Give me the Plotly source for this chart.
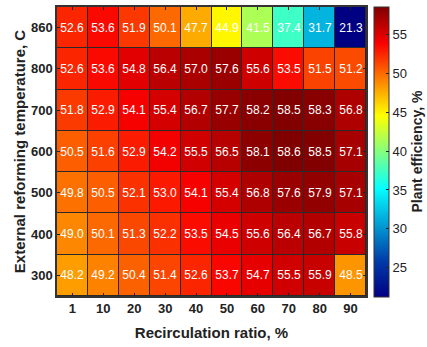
import plotly.graph_objects as go

# Recirculation ratio (%) and external reforming temperature (C)
recirc = ["1", "10", "20", "30", "40", "50", "60", "70", "80", "90"]
temps = ["300", "400", "500", "600", "700", "800", "860"]

# Plant efficiency (%) per temperature row, bottom (300 C) to top (860 C)
eff_300 = [48.2, 49.2, 50.4, 51.4, 52.6, 53.7, 54.7, 55.5, 55.9, 48.5]
eff_400 = [49.0, 50.1, 51.3, 52.2, 53.5, 54.5, 55.6, 56.4, 56.7, 55.8]
eff_500 = [49.8, 50.5, 52.1, 53.0, 54.1, 55.4, 56.8, 57.6, 57.9, 57.1]
eff_600 = [50.5, 51.6, 52.9, 54.2, 55.5, 56.5, 58.1, 58.6, 58.5, 57.1]
eff_700 = [51.8, 52.9, 54.1, 55.4, 56.7, 57.7, 58.2, 58.5, 58.3, 56.8]
eff_800 = [52.6, 53.6, 54.8, 56.4, 57.0, 57.6, 55.6, 53.5, 51.5, 51.2]
eff_860 = [52.6, 53.6, 51.9, 50.1, 47.7, 44.9, 41.5, 37.4, 31.7, 21.3]

z = [eff_300, eff_400, eff_500, eff_600, eff_700, eff_800, eff_860]
labels = [[f"{v:.1f}" for v in row] for row in z]

xi = list(range(len(recirc)))
yi = list(range(len(temps)))

jet = [
    [0.0, "rgb(0,0,131)"],
    [0.125, "rgb(0,60,170)"],
    [0.375, "rgb(5,255,255)"],
    [0.625, "rgb(255,255,0)"],
    [0.875, "rgb(250,0,0)"],
    [1.0, "rgb(128,0,0)"],
]

label_font = "Liberation Sans Narrow, Arial Narrow, Liberation Sans, Arial, sans-serif"
title_font = dict(family="Liberation Sans, Arial, sans-serif", size=15, color="#222")

fig = go.Figure(
    go.Heatmap(
        x=xi,
        y=yi,
        z=z,
        text=labels,
        texttemplate="%{text}",
        textfont=dict(family=label_font, size=12, color="white"),
        colorscale=jet,
        zmin=21.3,
        zmax=58.6,
        xgap=1,
        ygap=1,
        colorbar=dict(
            x=1.026,
            xanchor="left",
            xpad=0,
            y=0.5,
            yanchor="middle",
            ypad=0,
            len=290,
            lenmode="pixels",
            thickness=15,
            outlinewidth=1,
            outlinecolor="#333",
            ticks="inside",
            ticklen=3,
            tickcolor="#222",
            tickvals=[25, 30, 35, 40, 45, 50, 55],
            tickfont=dict(family=label_font, size=13, color="#222"),
        ),
    )
)

# Colorbar caption, placed to the right of the tick labels
fig.add_annotation(
    text="<b>Plant efficiency, %</b>",
    textangle=-90,
    xref="paper",
    yref="paper",
    x=1.165,
    y=0.5,
    xanchor="center",
    yanchor="middle",
    showarrow=False,
    font=dict(family="Liberation Sans, Arial, sans-serif", size=14, color="#222"),
)

axis_common = dict(
    showgrid=False,
    zeroline=False,
    showline=True,
    linecolor="#333",
    linewidth=1.5,
    mirror="ticks",
    ticks="inside",
    ticklen=3,
    tickcolor="#222",
)

fig.update_xaxes(
    tickvals=xi,
    ticktext=[f"<b>{t}</b>" for t in recirc],
    range=[-0.5, len(recirc) - 0.5],
    tickfont=dict(family=label_font, size=13, color="#222"),
    title=dict(text="<b>Recirculation ratio, %</b>", font=title_font, standoff=12),
    **axis_common,
)
fig.update_yaxes(
    tickvals=yi,
    ticktext=[f"<b>{t}</b>" for t in temps],
    range=[-0.5, len(temps) - 0.5],
    tickfont=dict(family=label_font, size=13, color="#222"),
    title=dict(text="<b>External reforming temperature, C</b>", font=title_font, standoff=2),
    **axis_common,
)

fig.update_layout(
    width=427,
    height=347,
    margin=dict(l=57, r=61, t=7, b=51, autoexpand=False),
    paper_bgcolor="white",
    plot_bgcolor="#2a2a2a",
)

fig.write_html("out.html")
